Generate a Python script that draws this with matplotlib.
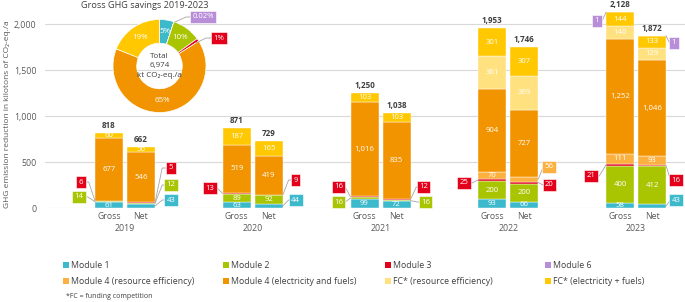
import math
import matplotlib
matplotlib.use("Agg")
import matplotlib.pyplot as plt
from matplotlib.patches import Rectangle

plt.rcParams['font.family'] = ['Open Sans', 'DejaVu Sans']

# ---------------- data ----------------
years = ['2019', '2020', '2021', '2022', '2023']
kinds = ['Gross', 'Net']

m1_gross = [61, 63, 99, 93, 58]
m1_net = [43, 44, 72, 66, 43]
m2_gross = [14, 89, 16, 200, 400]
m2_net = [12, 92, 16, 200, 412]
m3_gross = [6, 13, 16, 25, 21]
m3_net = [5, 9, 12, 20, 16]
m4re_gross = [0, 0, 0, 70, 111]
m4re_net = [0, 0, 0, 56, 93]
m4ef_gross = [677, 519, 1016, 904, 1252]
m4ef_net = [546, 419, 835, 727, 1046]
fcre_gross = [0, 0, 0, 361, 140]
fcre_net = [0, 0, 0, 369, 129]
fcef_gross = [60, 187, 103, 301, 144]
fcef_net = [56, 165, 103, 307, 133]
m6_gross = [0, 0, 0, 0, 1]
m6_net = [0, 0, 0, 0, 1]
totals_gross = [818, 871, 1250, 1953, 2128]
totals_net = [662, 729, 1038, 1746, 1872]

series_keys = ['m1', 'm2', 'm3', 'm4re', 'm4ef', 'fcre', 'fcef', 'm6']
series_names = {
    'm1': 'Module 1', 'm2': 'Module 2', 'm3': 'Module 3', 'm6': 'Module 6',
    'm4re': 'Module 4 (resource efficiency)', 'm4ef': 'Module 4 (electricity and fuels)',
    'fcre': 'FC* (resource efficiency)', 'fcef': 'FC* (electricity + fuels)'}
gross = {'m1': m1_gross, 'm2': m2_gross, 'm3': m3_gross, 'm4re': m4re_gross,
         'm4ef': m4ef_gross, 'fcre': fcre_gross, 'fcef': fcef_gross, 'm6': m6_gross}
net = {'m1': m1_net, 'm2': m2_net, 'm3': m3_net, 'm4re': m4re_net,
       'm4ef': m4ef_net, 'fcre': fcre_net, 'fcef': fcef_net, 'm6': m6_net}

pie_labels = ['Module 1', 'Module 6', 'Module 2', 'Module 3', 'Module 4', 'FC*']
pie_pct = [5, 0.02, 10, 1, 65, 19]
pie_text = ['5%', '0.02%', '10%', '1%', '65%', '19%']
pie_total = '6,974'

# ---------------- style ----------------
colors = {'m1': '#3DB9CC', 'm2': '#A9C400', 'm3': '#E2001A', 'm4re': '#FBB040',
          'm4ef': '#F29400', 'fcre': '#FFE17F', 'fcef': '#FFC800', 'm6': '#B98ED8'}
pie_colors = [colors['m1'], colors['m6'], colors['m2'], colors['m3'], colors['m4ef'], colors['fcef']]
grey_txt = '#595959'
dark_txt = '#404040'

W, H = 685, 302
fig = plt.figure(figsize=(W / 100, H / 100), dpi=100)

def fx(px):
    return px / W

def fy(py):
    return 1 - py / H

ax_left, ax_right, ax_base = 45, 685, 208
ax = fig.add_axes([fx(ax_left), fy(ax_base), (ax_right - ax_left) / W, ax_base / H])
ymax = 2261
ax.set_ylim(0, ymax)
group_px = 127.75
xl = -80 / group_px
xr = 4 + 49 / group_px
ax.set_xlim(xl, xr)
px_x = 1 / group_px          # data units per pixel (x)
px_y = ymax / ax_base        # data units per pixel (y)

for s in ax.spines.values():
    s.set_visible(False)
ax.set_yticks([0, 500, 1000, 1500, 2000])
ax.set_yticklabels(['0', '500', '1,000', '1,500', '2,000'], fontsize=6.3, color=grey_txt)
ax.tick_params(axis='y', length=0, pad=6)
ax.set_xticks([])
ax.grid(axis='y', color='#D9D9D9', linewidth=0.8)
ax.set_axisbelow(True)

bw = 28 / group_px
off = 16 / group_px

def fmt(v):
    return f'{v:,}'

callouts = [
    (0, 0, 'm3', 182, 14), (0, 0, 'm2', 197, 16),
    (0, 1, 'm3', 168, 16), (0, 1, 'm2', 185, 16), (0, 1, 'm1', 200, 16),
    (1, 0, 'm3', 188, 13), (1, 1, 'm3', 180, 13), (1, 1, 'm1', 200, 13),
    (2, 0, 'm3', 187, 12), (2, 0, 'm2', 202, 12), (2, 1, 'm3', 187, 13), (2, 1, 'm2', 202, 15),
    (3, 0, 'm3', 183, 14), (3, 1, 'm4re', 167, 11), (3, 1, 'm3', 185, 11),
    (4, 0, 'm3', 176, 15), (4, 0, 'm6', 21, 9),
    (4, 1, 'm3', 180, 10), (4, 1, 'm1', 200, 10), (4, 1, 'm6', 43, 8),
]
callout_set = {(c[0], c[1], c[2]) for c in callouts}

seg_mid = {}
for k, data, tots in [(0, gross, totals_gross), (1, net, totals_net)]:
    for i in range(len(years)):
        xc = i + (-off if k == 0 else off)
        bottom = 0
        for key in series_keys:
            v = data[key][i]
            if v > 0:
                ax.bar(xc, v, bw, bottom=bottom, color=colors[key], edgecolor='white',
                       linewidth=0.3, zorder=2)
                seg_mid[(i, k, key)] = bottom + v / 2
                if (i, k, key) not in callout_set:
                    ax.text(xc, bottom + v / 2, fmt(v), ha='center', va='center',
                            fontsize=5.6, color='white', zorder=3)
            bottom += v
        ax.text(xc, bottom + 3 * px_y, fmt(tots[i]), ha='center', va='bottom',
                fontsize=5.8, fontweight='bold', color=dark_txt, zorder=3, clip_on=False)
        ax.text(xc, -4 * px_y, kinds[k], ha='center', va='top', fontsize=6.3,
                color=grey_txt, clip_on=False)

for i, y in enumerate(years):
    ax.text(i, -16 * px_y, y, ha='center', va='top', fontsize=6.3, color=grey_txt, clip_on=False)

for (i, k, key, bpy, opx) in callouts:
    data = gross if k == 0 else net
    v = data[key][i]
    sgn = -1 if k == 0 else 1
    xc = i + sgn * off
    xe = xc + sgn * bw / 2
    xb = xe + sgn * opx * px_x
    yb = (ax_base - bpy) * px_y
    xel = xe + sgn * 0.45 * opx * px_x
    ax.plot([xb, xel, xe], [yb, yb, seg_mid[(i, k, key)]], color='#A6A6A6',
            linewidth=0.6, zorder=4, clip_on=False)
    ax.text(xb, yb, fmt(v), ha='center', va='center', fontsize=5.6, color='white', zorder=5,
            clip_on=False,
            bbox=dict(boxstyle='square,pad=0.3', fc=colors[key], ec='white', lw=0.4))

# y label
fig.text(fx(8), fy(114), 'GHG emission reduction in kilotons of CO\u2082-eq./a', rotation=90,
         ha='center', va='center', fontsize=6.0, color=grey_txt)

# ---------------- donut ----------------
cx, cy, R = 159.5, 66, 46.5
pax = fig.add_axes([fx(cx - R), fy(cy + R), 2 * R / W, 2 * R / H])
wedges, _ = pax.pie(pie_pct, colors=pie_colors, startangle=90, counterclock=False,
                    radius=1, wedgeprops=dict(width=0.51, edgecolor='white', linewidth=0.5))
pax.set_xlim(-1, 1)
pax.set_ylim(-1, 1)
pax.set_aspect('auto')
for w, t, p in zip(wedges, pie_text, pie_pct):
    if p < 2:
        continue
    ang = math.radians((w.theta1 + w.theta2) / 2)
    pax.text(0.745 * math.cos(ang), 0.745 * math.sin(ang), t, ha='center', va='center',
             fontsize=5.8, color='white')
pax.text(0, 0, 'Total\n' + pie_total + '\nkt CO\u2082-eq./a', ha='center', va='center',
         fontsize=5.8, color=dark_txt, linespacing=1.45)

fig.text(fx(145), fy(6), 'Gross GHG savings 2019-2023', ha='center', va='center',
         fontsize=6.6, color=dark_txt)

# pie callouts
def pie_callout(text, color, box_c, pts):
    xs = [fx(p[0]) for p in pts]
    ys = [fy(p[1]) for p in pts]
    fig.add_artist(plt.Line2D(xs, ys, color='#A6A6A6', linewidth=0.6, transform=fig.transFigure))
    fig.text(fx(box_c[0]), fy(box_c[1]), text, ha='center', va='center', fontsize=5.6,
             color='white', bbox=dict(boxstyle='square,pad=0.3', fc=color, ec='white', lw=0.4))

pie_callout(pie_text[1], colors['m6'], (203, 17), [(203, 17), (186, 17), (175, 22)])
pie_callout(pie_text[3], colors['m3'], (219, 38), [(219, 38), (206, 38), (196, 43)])

# ---------------- legend ----------------
leg_rows = [['m1', 'm2', 'm3', 'm6'], ['m4re', 'm4ef', 'fcre', 'fcef']]
leg_cols = [63, 223, 385, 545]
leg_y = [265, 281]
for r, row in enumerate(leg_rows):
    for c, key in enumerate(row):
        x0 = leg_cols[c]
        y0 = leg_y[r]
        fig.add_artist(Rectangle((fx(x0), fy(y0 + 3)), 6 / W, 6 / H, transform=fig.transFigure,
                                 facecolor=colors[key], edgecolor='none'))
        fig.text(fx(x0 + 8), fy(y0), series_names[key], ha='left', va='center',
                 fontsize=6.3, color=dark_txt)

fig.text(fx(66), fy(297), '*FC = funding competition', ha='left', va='center',
         fontsize=5.0, color=dark_txt)

fig.savefig('out.png', dpi=100)
